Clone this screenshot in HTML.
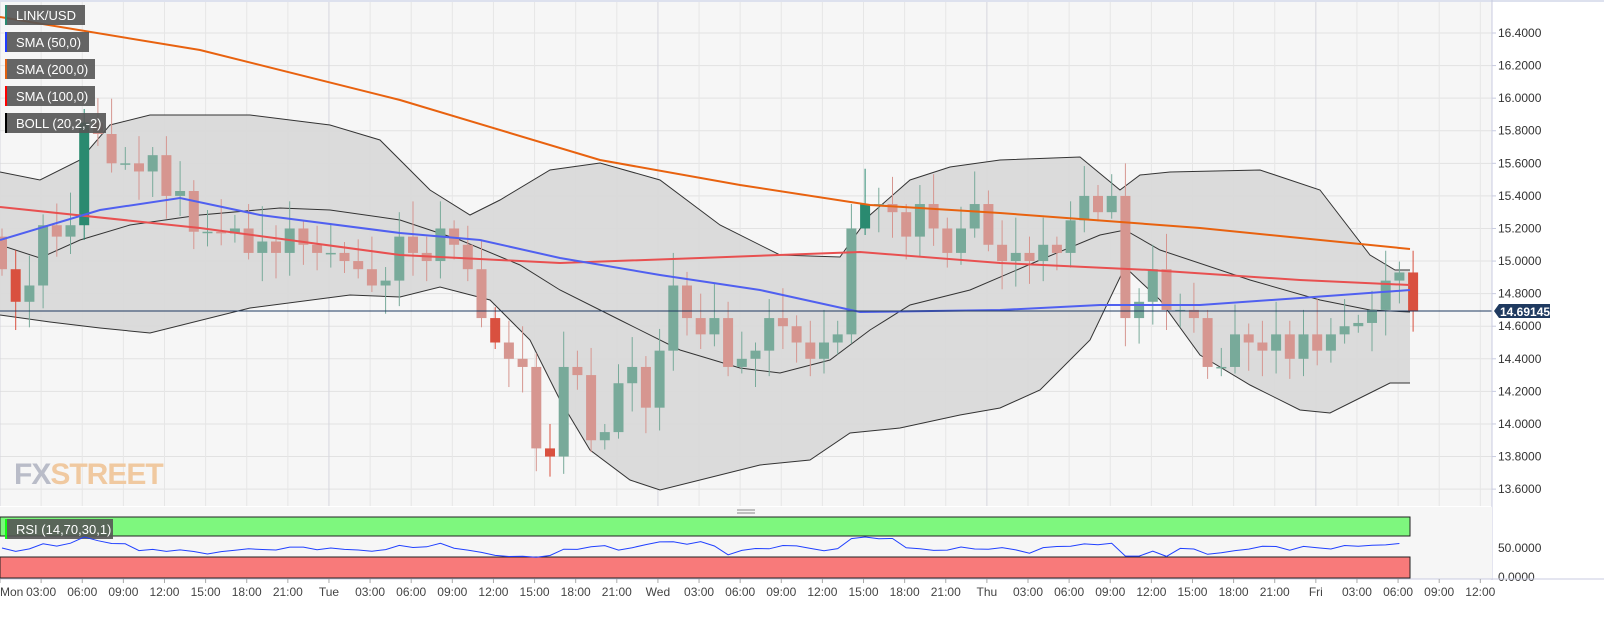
<!DOCTYPE html>
<html><head><meta charset="utf-8"><style>
html,body{margin:0;padding:0;background:#fff;}
svg{display:block;font-family:"Liberation Sans",sans-serif;}
</style></head><body>
<svg id="s" width="1604" height="617" viewBox="0 0 1604 617" xmlns="http://www.w3.org/2000/svg">
<rect x="0" y="0" width="1604" height="617" fill="#fff"/>
<rect x="0" y="2" width="1492" height="504" fill="#f6f6f6"/>
<rect x="0" y="0" width="1604" height="2" fill="#dde1ee"/>
<g id="grid"></g>
<polygon id="bbfill" fill="#d9d9d9" fill-opacity="0.95"/>
<g id="bbl" fill="none" stroke="#333" stroke-width="1"></g>
<g id="candles"></g>
<g id="lines" fill="none" stroke-width="2"></g>
<line x1="0" y1="311" x2="1492" y2="311" stroke="#1f3a60" stroke-width="1"/>
<line x1="1492" y1="0" x2="1492" y2="580" stroke="#c8cbe0"/>
<g id="yl" font-size="12" fill="#333"></g>
<path d="M1494 311 L1499 304 L1550 304 L1550 318 L1499 318 Z" fill="#1f3a60"/>
<text x="1500" y="316" font-size="12" font-weight="bold" fill="#fff">14.69145</text>
<text x="14" y="484" font-size="30" font-weight="bold" fill="#b9bcc8" letter-spacing="-1">FX<tspan fill="#f0c9a0">STREET</tspan></text>
<g font-size="13" fill="#fff">
<rect x="5" y="5" width="80" height="20" fill="#555" fill-opacity="0.9"/><rect x="5" y="5" width="2" height="20" fill="#2a8a70"/><text x="16" y="20">LINK/USD</text>
<rect x="5" y="32" width="84" height="20" fill="#555" fill-opacity="0.9"/><rect x="5" y="32" width="2" height="20" fill="#1f3cff"/><text x="16" y="47">SMA (50,0)</text>
<rect x="5" y="59" width="90" height="20" fill="#555" fill-opacity="0.9"/><rect x="5" y="59" width="2" height="20" fill="#e06010"/><text x="16" y="74">SMA (200,0)</text>
<rect x="5" y="86" width="90" height="20" fill="#555" fill-opacity="0.9"/><rect x="5" y="86" width="2" height="20" fill="#f00"/><text x="16" y="101">SMA (100,0)</text>
<rect x="5" y="113" width="101" height="20" fill="#555" fill-opacity="0.9"/><rect x="5" y="113" width="2" height="20" fill="#000"/><text x="16" y="128">BOLL (20,2,-2)</text>
</g>
<rect x="0" y="507" width="1492" height="10" fill="#f6f6f6"/>
<line x1="737" y1="510" x2="755" y2="510" stroke="#888"/><line x1="737" y1="513" x2="755" y2="513" stroke="#888"/>
<rect x="0" y="517" width="1492" height="62" fill="#f6f6f6"/>
<rect x="0" y="517" width="1410" height="19" fill="#7ef77e" stroke="#222" stroke-width="1"/>
<rect x="0" y="557" width="1410" height="21" fill="#f87a7a" stroke="#222" stroke-width="1"/>
<rect x="5" y="519" width="108" height="20" fill="#555" fill-opacity="0.9"/><rect x="5" y="519" width="2" height="20" fill="#1f1"/>
<text x="16" y="534" font-size="13" fill="#fff">RSI (14,70,30,1)</text>
<polyline id="rsi" fill="none" stroke="#2040ff" stroke-width="1"/>
<text x="1498" y="552" font-size="12" fill="#333">50.0000</text>
<text x="1498" y="581" font-size="12" fill="#333">0.0000</text>
<line x1="0" y1="579" x2="1604" y2="579" stroke="#c8cbe0"/>
<g id="xl" font-size="12" fill="#444"></g>
</svg>
<script>
const NS="http://www.w3.org/2000/svg";
function el(t,a,p){const e=document.createElementNS(NS,t);for(const k in a)e.setAttribute(k,a[k]);document.getElementById(p).appendChild(e);return e;}
const Y=p=>33+(16.4-p)*162.9;
for(let p=13.6;p<=16.41;p+=0.2){const y=Y(p);el('line',{x1:0,x2:1492,y1:y,y2:y,stroke:'#e2e2e2'},'grid');
 const t=el('text',{x:1498,y:y+4},'yl');t.textContent=p.toFixed(4);
 el('line',{x1:1492,x2:1496,y1:y,y2:y,stroke:'#c8cbe0'},'yl');}
const labs=['Mon','03:00','06:00','09:00','12:00','15:00','18:00','21:00','Tue','03:00','06:00','09:00','12:00','15:00','18:00','21:00','Wed','03:00','06:00','09:00','12:00','15:00','18:00','21:00','Thu','03:00','06:00','09:00','12:00','15:00','18:00','21:00','Fri','03:00','06:00','09:00','12:00'];
labs.forEach((l,i)=>{const x=i*41.12;
 el('line',{x1:x,x2:x,y1:2,y2:506,stroke:l.length==3?'#d6d6de':'#e6e6e6'},'grid');
 el('line',{x1:x,x2:x,y1:517,y2:579,stroke:'#e6e6e6'},'grid');
 el('line',{x1:x,x2:x,y1:579,y2:583,stroke:'#aaa'},'xl');
 const t=el('text',{x:x,y:596,'text-anchor':i==0?'start':'middle'},'xl');t.textContent=l;});
const P=s=>s.trim().split(/\s+/).map(v=>v.split(',').map(Number));
const up=P("0,172 40,180 80,160 110,125 150,115 250,115 330,125 380,140 430,190 470,215 500,200 550,170 600,163 660,180 720,225 780,255 840,257 870,215 910,180 950,167 1000,160 1080,157 1120,190 1140,175 1170,172 1260,170 1320,190 1370,255 1395,270 1410,270");
const lo=P("0,315 50,322 100,328 150,333 250,308 350,295 400,297 440,287 490,300 530,340 560,400 590,450 630,480 660,490 700,480 760,465 810,460 850,433 900,428 960,415 1000,408 1040,390 1090,340 1125,267 1160,300 1200,355 1250,385 1300,410 1330,413 1370,393 1390,383 1410,383");
const mid=P("0,245 40,258 80,240 130,225 200,215 280,208 330,210 400,220 460,240 520,265 560,290 620,320 680,350 740,368 780,373 830,360 870,330 910,305 970,290 1040,260 1100,235 1125,230 1160,250 1250,280 1320,300 1370,310 1410,312");
document.getElementById('bbfill').setAttribute('points',up.concat(lo.slice().reverse()).join(' '));
[up,lo,mid].forEach(a=>el('polyline',{points:a.join(' ')},'bbl'));
const c=[14.95,14.75,14.85,15.22,15.15,15.22,15.85,15.78,15.6,15.6,15.55,15.65,15.4,15.43,15.18,15.18,15.17,15.2,15.05,15.12,15.05,15.2,15.1,15.05,
15.05,15.0,14.95,14.85,14.88,15.15,15.05,15.0,15.2,15.1,14.95,14.65,14.5,14.4,14.35,13.85,13.8,14.35,14.3,13.9,13.95,14.25,14.35,14.1,
14.45,14.85,14.65,14.55,14.65,14.35,14.4,14.45,14.65,14.6,14.5,14.4,14.5,14.55,15.2,15.35,15.35,15.3,15.15,15.35,15.2,15.05,15.2,15.35,
15.1,15.0,15.05,15.0,15.1,15.05,15.25,15.4,15.3,15.4,14.65,14.75,14.95,14.7,14.7,14.65,14.35,14.35,14.55,14.5,14.45,14.55,14.4,14.55,
14.45,14.55,14.6,14.62,14.7,14.88,14.93,14.69];
let o=15.15;
c.forEach((cl,i)=>{const x=i*13.7+2;const g=cl>=o;const hi=Math.max(o,cl)+0.05+((i*37)%11)/60,lw=Math.min(o,cl)-0.04-((i*53)%9)/60;
 const last=i==c.length-1;
 const col=g?(i==6||i==63?'#2a8a70':'#78aa9a'):(last||i==1||i==36||i==40||i==81?'#d9503f':'#d69690');
 el('line',{x1:x,x2:x,y1:Y(hi),y2:Y(lw),stroke:col,'stroke-width':1},'candles');
 const t=Y(Math.max(o,cl)),b=Y(Math.min(o,cl));
 el('rect',{x:x-5,y:t,width:10,height:Math.max(1.5,b-t),fill:col},'candles');
 o=cl;});
el('polyline',{points:"0,17 200,50 400,100 600,160 740,185 870,205 1000,213 1200,228 1410,249",stroke:'#e8620f'},'lines');
el('polyline',{points:"0,207 200,228 400,255 560,263 700,258 860,252 1000,263 1150,270 1300,280 1410,285",stroke:'#e85050'},'lines');
el('polyline',{points:"0,240 100,210 180,198 260,215 400,233 480,240 560,258 660,275 760,290 860,312 1000,310 1100,305 1200,305 1300,298 1410,290",stroke:'#5060f0'},'lines');
let r=[];for(let i=0;i<=102;i++){const x=i*13.7+2;const d=c[i]-(c[i-4]!==undefined?c[i-4]:c[0]);let y=548-d*12+Math.sin(i*1.7)*1;y=Math.max(537,Math.min(563,y));r.push(x+','+y.toFixed(1));}
document.getElementById('rsi').setAttribute('points',r.join(' '));
</script>
</body></html>
